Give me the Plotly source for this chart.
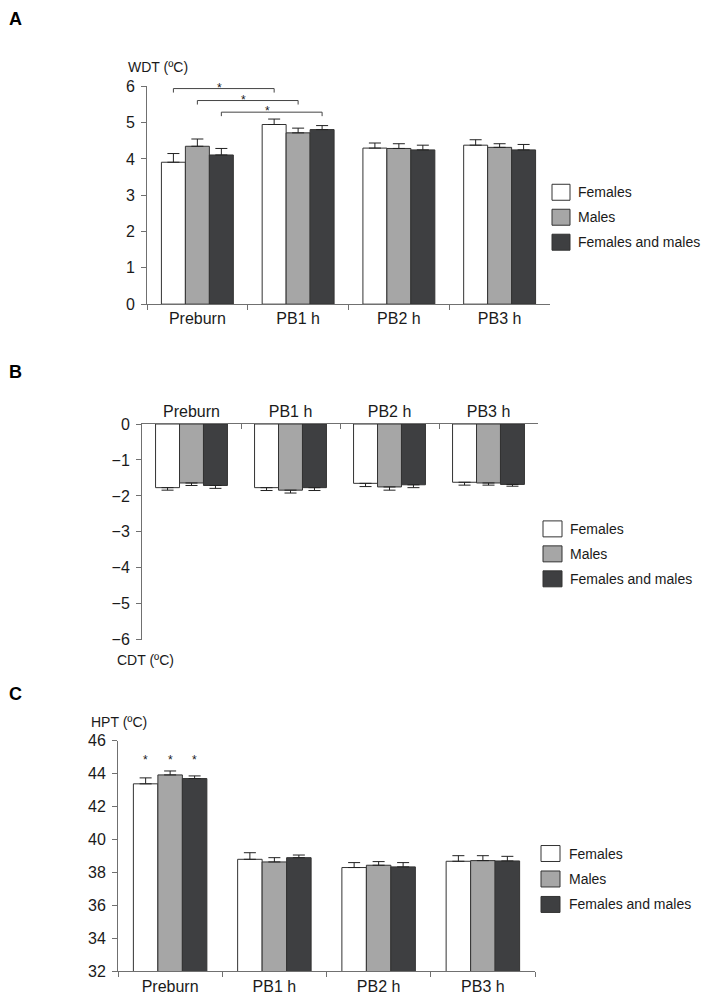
import plotly.graph_objects as go

# ---------------- data ----------------
categories = ["Preburn", "PB1 h", "PB2 h", "PB3 h"]
series_names = ["Females", "Males", "Females and males"]

# Panel A: WDT (ºC)
wdt_females = [3.91, 4.95, 4.30, 4.38]
wdt_males = [4.35, 4.72, 4.29, 4.32]
wdt_both = [4.11, 4.81, 4.25, 4.25]
wdt_err_females = [0.24, 0.15, 0.14, 0.15]
wdt_err_males = [0.20, 0.13, 0.13, 0.10]
wdt_err_both = [0.18, 0.11, 0.13, 0.15]

# Panel B: CDT (ºC)
cdt_females = [-1.77, -1.77, -1.65, -1.62]
cdt_males = [-1.64, -1.84, -1.75, -1.64]
cdt_both = [-1.71, -1.77, -1.69, -1.68]
cdt_err_females = [0.07, 0.08, 0.09, 0.08]
cdt_err_males = [0.07, 0.08, 0.09, 0.06]
cdt_err_both = [0.08, 0.08, 0.08, 0.05]

# Panel C: HPT (ºC)
hpt_females = [43.38, 38.80, 38.30, 38.68]
hpt_males = [43.92, 38.64, 38.44, 38.72]
hpt_both = [43.70, 38.90, 38.34, 38.70]
hpt_err_females = [0.36, 0.40, 0.30, 0.34]
hpt_err_males = [0.24, 0.26, 0.22, 0.30]
hpt_err_both = [0.16, 0.16, 0.26, 0.28]

# significance: WDT Preburn vs PB1 h for each series (series index, from, to, bracket level)
wdt_brackets = [(0, "Preburn", "PB1 h", 5.94), (1, "Preburn", "PB1 h", 5.61), (2, "Preburn", "PB1 h", 5.29)]
# significance stars on HPT (series index, category)
hpt_stars = [(0, "Preburn"), (1, "Preburn"), (2, "Preburn")]

# ---------------- style ----------------
W, H = 710, 1002
FONT = "Arial, Liberation Sans, Helvetica, sans-serif"
fills = ["#ffffff", "#a6a6a6", "#3e3f41"]
outline = "#333333"
axis_col = "#707070"
txt_col = "#1a1a1a"

# vertical correction measured for the capture of this page
Y_SCALE, Y_OFF = 0.9875, 3.25


def px_x(p):
    return p / W


def px_y(p):
    p = p - 3.0 * (971 - p) / 886.0
    return 1 - ((p - Y_OFF) / Y_SCALE) / H


panels = [
    dict(key="A", xa="x", ya="y",
         vals=[wdt_females, wdt_males, wdt_both],
         errs=[wdt_err_females, wdt_err_males, wdt_err_both],
         x0=147, x1=550, ytop=85, ybot=303, rng=[0, 6], dtick=1,
         barw=0.238, neg=False,
         leg=dict(sx0=552, sx1=570, top=183, step=25, size=16, tx=576)),
    dict(key="B", xa="x2", ya="y2",
         vals=[cdt_females, cdt_males, cdt_both],
         errs=[cdt_err_females, cdt_err_males, cdt_err_both],
         x0=142, x1=538, ytop=423, ybot=639, rng=[-6, 0], dtick=1,
         barw=0.242, neg=True,
         leg=dict(sx0=543, sx1=562, top=520, step=25, size=16, tx=568)),
    dict(key="C", xa="x3", ya="y3",
         vals=[hpt_females, hpt_males, hpt_both],
         errs=[hpt_err_females, hpt_err_males, hpt_err_both],
         x0=118, x1=535, ytop=740, ybot=971, rng=[32, 46], dtick=2,
         barw=0.235, neg=False,
         leg=dict(sx0=541, sx1=560, top=845, step=25.5, size=16, tx=567)),
]

fig = go.Figure()

for p in panels:
    bw = p["barw"]
    for i, (name, vals, errs) in enumerate(zip(series_names, p["vals"], p["errs"])):
        zeros = [0] * len(vals)
        err = dict(type="data", symmetric=False,
                   array=zeros if p["neg"] else errs,
                   arrayminus=errs if p["neg"] else zeros,
                   color="#222222", thickness=1, width=6)
        fig.add_trace(go.Bar(
            x=categories, y=vals, name=name,
            width=bw, offset=-1.5 * bw + i * bw,
            marker=dict(color=fills[i], line=dict(color=outline, width=1)),
            error_y=err,
            xaxis=p["xa"], yaxis=p["ya"],
            showlegend=False,
            hoverinfo="x+y+name",
        ))

layout = dict(
    width=W, height=H,
    margin=dict(l=0, r=0, t=0, b=0),
    paper_bgcolor="white", plot_bgcolor="white",
    font=dict(family=FONT, size=14, color=txt_col),
    barmode="overlay",
    showlegend=False,
)

axis_common = dict(showgrid=False, zeroline=False, showline=True,
                   linecolor=axis_col, linewidth=1, tickcolor=axis_col,
                   ticklen=5, tickwidth=1, tickfont=dict(size=16, color=txt_col))

for n, p in enumerate(panels, start=1):
    sfx = "" if n == 1 else str(n)
    xdom = [px_x(p["x0"]), px_x(p["x1"])]
    ydom = [px_y(p["ybot"]), px_y(p["ytop"])]
    layout["xaxis" + sfx] = dict(axis_common, domain=xdom, anchor="y" + sfx,
                                 type="category", range=[-0.5, 3.5],
                                 categoryorder="array", categoryarray=categories,
                                 tickson="boundaries",
                                 ticks="inside" if p["neg"] else "outside",
                                 side="top" if p["neg"] else "bottom",
                                 fixedrange=True)
    layout["yaxis" + sfx] = dict(axis_common, domain=ydom, anchor="x" + sfx,
                                 range=p["rng"], dtick=p["dtick"], tick0=p["rng"][0],
                                 ticks="outside", ticklabelstandoff=3, fixedrange=True)

fig.update_layout(**layout)

# legends (one per panel), drawn as swatches + labels
for p in panels:
    lg = p["leg"]
    for i, name in enumerate(series_names):
        top = lg["top"] + i * lg["step"]
        fig.add_shape(type="rect", xref="paper", yref="paper",
                      x0=px_x(lg["sx0"]), x1=px_x(lg["sx1"]),
                      y0=px_y(top + lg["size"]), y1=px_y(top),
                      fillcolor=fills[i], line=dict(color=outline, width=1))
        fig.add_annotation(xref="paper", yref="paper", showarrow=False,
                           text=name, x=px_x(lg["tx"]), y=px_y(top + lg["size"] / 2),
                           xanchor="left", yanchor="middle",
                           font=dict(size=14, color=txt_col))

# axis titles and panel letters
ann = [
    dict(text="WDT (ºC)", x=px_x(126), y=px_y(66), xanchor="left", yanchor="middle"),
    dict(text="CDT (ºC)", x=px_x(115), y=px_y(659), xanchor="left", yanchor="middle"),
    dict(text="HPT (ºC)", x=px_x(89), y=px_y(721), xanchor="left", yanchor="middle"),
]
for a in ann:
    fig.add_annotation(xref="paper", yref="paper", showarrow=False,
                       font=dict(size=14, color=txt_col), **a)
for letter, ytop in [("A", 6), ("B", 359), ("C", 681)]:
    fig.add_annotation(xref="paper", yref="paper", showarrow=False,
                       text="<b>" + letter + "</b>", x=px_x(7), y=px_y(ytop),
                       xanchor="left", yanchor="top",
                       font=dict(size=18, color="#000000"))

# WDT significance brackets
bwA = panels[0]["barw"]
drop = 0.11
for si, c_from, c_to, lvl in wdt_brackets:
    xa = categories.index(c_from) - 1.5 * bwA + (si + 0.5) * bwA
    xb = categories.index(c_to) - 1.5 * bwA + (si + 0.5) * bwA
    fig.add_shape(type="path", xref="x", yref="y",
                  path=f"M {xa},{lvl - drop} L {xa},{lvl} L {xb},{lvl} L {xb},{lvl - drop}",
                  line=dict(color="#444444", width=1))
    fig.add_annotation(xref="x", yref="y", x=(xa + xb) / 2 - 0.04, y=lvl, text="*",
                       showarrow=False, yanchor="middle", yshift=1,
                       font=dict(size=12, color=txt_col))

# HPT significance stars
bwC = panels[2]["barw"]
for si, cat in hpt_stars:
    xc = categories.index(cat) - 1.5 * bwC + (si + 0.5) * bwC
    fig.add_annotation(xref="x3", yref="y3", x=xc, y=44.8, text="*",
                       showarrow=False, yanchor="middle",
                       font=dict(size=12, color=txt_col))

fig.write_html("out.html", post_script="document.body.style.margin='0';",
               config={"displayModeBar": False})
